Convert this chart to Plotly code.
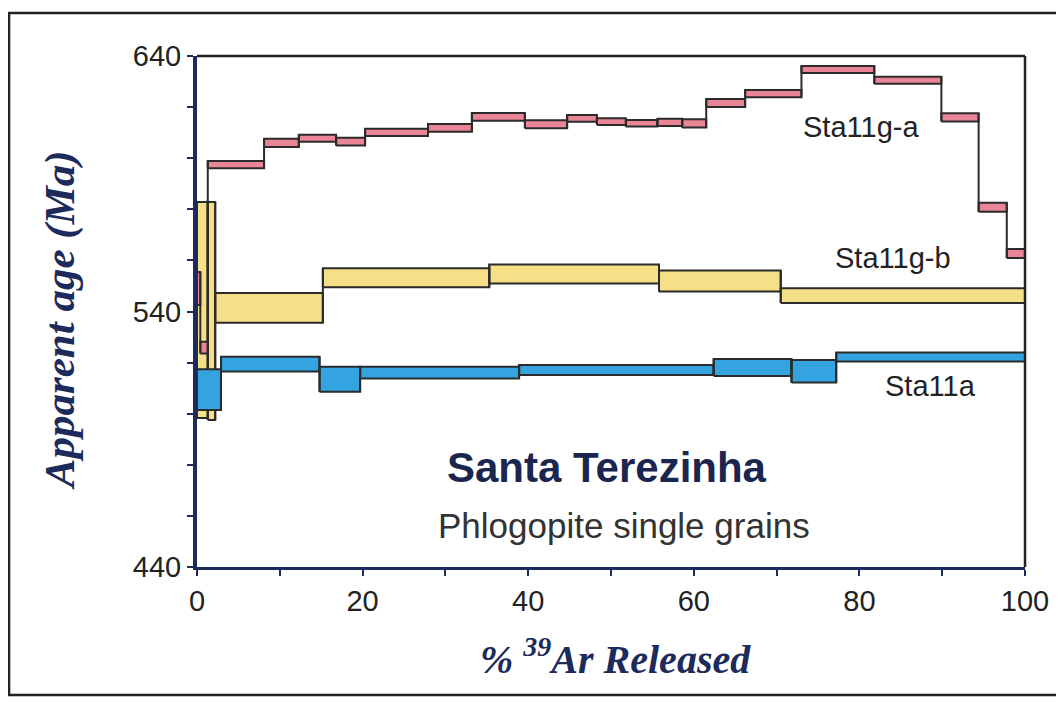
import plotly.graph_objects as go

# ---------------- data ----------------
x_range = [0, 100]
y_range = [440, 640]
x_tickvals = [0, 20, 40, 60, 80, 100]
x_ticktext = ['0', '20', '40', '60', '80', '100']
x_minor_ticks = [10, 30, 50, 70, 90]
y_tickvals = [440, 540, 640]
y_ticktext = ['440', '540', '640']
y_minor_ticks = [460, 480, 500, 520, 560, 580, 600, 620]

# Sta11g-a (pink)
a_name = 'Sta11g-a'
a_edges = [0, 0.4, 1.3, 8.1, 12.3, 16.8, 20.3, 27.9, 33.2, 39.6, 44.7, 48.3,
           51.8, 55.6, 58.6, 61.5, 66.2, 73.0, 81.8, 89.9, 94.4, 97.8, 100]
a_age = [549.0, 525.9, 597.5, 606.0, 607.8, 606.5, 610.1, 611.9, 616.2, 613.3, 615.6,
         614.3, 613.7, 614.0, 613.6, 621.6, 625.3, 634.7, 630.5, 616.0, 580.8, 562.7]
a_err = [6.5, 2.3, 1.4, 1.6, 1.4, 1.5, 1.4, 1.5, 1.5, 1.6, 1.3,
         1.3, 1.3, 1.4, 1.6, 1.6, 1.4, 1.4, 1.4, 1.6, 1.8, 1.8]

# Sta11g-b (yellow)
b_name = 'Sta11g-b'
b_edges = [0, 1.3, 2.2, 15.2, 35.3, 55.8, 70.5, 100]
b_age = [540.6, 540.2, 541.4, 553.2, 554.7, 551.9, 546.2]
b_err = [42.3, 42.7, 5.8, 3.7, 3.7, 4.1, 2.9]

# Sta11a (blue)
c_name = 'Sta11a'
c_edges = [0, 2.9, 14.8, 19.7, 38.9, 62.4, 71.8, 77.2, 100]
c_age = [509.4, 519.4, 513.5, 516.1, 517.1, 518.1, 516.6, 522.2]
c_err = [8.0, 2.9, 4.9, 2.3, 2.0, 3.3, 4.4, 1.8]

title_text = 'Santa Terezinha'
subtitle_text = 'Phlogopite single grains'
y_title = 'Apparent age (Ma)'
x_title = '% <sup>39</sup>Ar Released'

# ---------------- styles ----------------
PINK = '#e98596'
YELLOW = '#f5df87'
BLUE = '#33a4e0'
OUTLINE = '#2b2b2b'
NAVY = '#1c2a5c'


def boxes(edges, age, err):
    xs, ys = [], []
    for i in range(len(age)):
        x0, x1 = edges[i], edges[i + 1]
        lo, hi = age[i] - err[i], age[i] + err[i]
        xs += [x0, x1, x1, x0, x0, None]
        ys += [lo, lo, hi, hi, lo, None]
    return xs, ys


def connectors(edges, age, err):
    xs, ys = [], []
    for i in range(len(age) - 1):
        xb = edges[i + 1]
        lo = min(age[i] - err[i], age[i + 1] - err[i + 1])
        hi = max(age[i] + err[i], age[i + 1] + err[i + 1])
        xs += [xb, xb, None]
        ys += [lo, hi, None]
    return xs, ys


fig = go.Figure()

for name, edges, age, err, col in [
    (b_name, b_edges, b_age, b_err, YELLOW),
    (c_name, c_edges, c_age, c_err, BLUE),
    (a_name, a_edges, a_age, a_err, PINK),
]:
    bx, by = boxes(edges, age, err)
    fig.add_trace(go.Scatter(x=bx, y=by, mode='lines', fill='toself', fillcolor=col,
                             line=dict(color=OUTLINE, width=2), name=name,
                             showlegend=False, hoverinfo='skip'))
    cx, cy = connectors(edges, age, err)
    fig.add_trace(go.Scatter(x=cx, y=cy, mode='lines',
                             line=dict(color=OUTLINE, width=2),
                             showlegend=False, hoverinfo='skip'))

# page body has an 8px margin: figure is sized/positioned to compensate
fig.update_layout(
    width=1056, height=694,
    margin=dict(l=189, r=39, t=48, b=135),
    paper_bgcolor='white', plot_bgcolor='white',
    font=dict(family='Liberation Sans, Arial, sans-serif', color='#222222'),
    showlegend=False,
)

fig.update_xaxes(range=x_range, tickvals=x_tickvals, ticktext=x_ticktext,
                 showgrid=False, zeroline=False, showline=True, linewidth=3,
                 linecolor=NAVY, ticks='outside', ticklen=6, tickwidth=2,
                 tickcolor=NAVY, tickfont=dict(size=29, color='#222222'),
                 minor=dict(tickvals=x_minor_ticks, ticks='outside', ticklen=6,
                            tickwidth=2, tickcolor=NAVY, showgrid=False))
fig.update_yaxes(range=y_range, tickvals=y_tickvals, ticktext=y_ticktext,
                 showgrid=False, zeroline=False, showline=True, linewidth=4,
                 linecolor=NAVY, ticks='outside', ticklen=6, tickwidth=2,
                 tickcolor=NAVY, tickfont=dict(size=29, color='#222222'),
                 minor=dict(tickvals=y_minor_ticks, ticks='outside', ticklen=6,
                            tickwidth=2, tickcolor=NAVY, showgrid=False))

# top & right border of plot area
fig.add_shape(type='line', xref='x domain', yref='y domain', x0=0, x1=1, y0=1, y1=1,
              line=dict(color='#222222', width=2.5))
fig.add_shape(type='line', xref='x domain', yref='y domain', x0=1, x1=1, y0=0, y1=1,
              line=dict(color='#222222', width=2.5))
# outer frame
fig.add_shape(type='rect', xref='paper', yref='paper', x0=-0.227, x1=1.1, y0=-0.2505, y1=1.084,
              line=dict(color='#222222', width=2.5), fillcolor='rgba(0,0,0,0)')

ann = []
ann.append(dict(x=80.2, y=612.2, xref='x', yref='y', text=a_name, showarrow=False,
                xanchor='center', yanchor='middle', font=dict(size=29, color='#222222')))
ann.append(dict(x=84.1, y=560.9, xref='x', yref='y', text=b_name, showarrow=False,
                xanchor='center', yanchor='middle', font=dict(size=29, color='#222222')))
ann.append(dict(x=88.6, y=510.8, xref='x', yref='y', text=c_name, showarrow=False,
                xanchor='center', yanchor='middle', font=dict(size=29, color='#222222')))
ann.append(dict(x=49.5, y=479.1, xref='x', yref='y', text='<b>' + title_text + '</b>',
                xanchor='center', yanchor='middle',
                showarrow=False, font=dict(size=42, color='#1a2550')))
ann.append(dict(x=51.6, y=456.4, xref='x', yref='y', text=subtitle_text,
                xanchor='center', yanchor='middle',
                showarrow=False, font=dict(size=35, color='#333333')))
ann.append(dict(x=-0.1655, y=0.483, xref='paper', yref='paper', textangle=-90,
                xanchor='center', yanchor='middle',
                text='<b><i>' + y_title + '</i></b>', showarrow=False,
                font=dict(family='Liberation Serif, Times New Roman, serif', size=43, color=NAVY)))
ann.append(dict(x=0.505, y=-0.176, xref='paper', yref='paper',
                xanchor='center', yanchor='middle',
                text='<b><i>' + x_title + '</i></b>', showarrow=False,
                font=dict(family='Liberation Serif, Times New Roman, serif', size=40, color=NAVY)))
fig.update_layout(annotations=ann)

fig.write_html('out.html')
